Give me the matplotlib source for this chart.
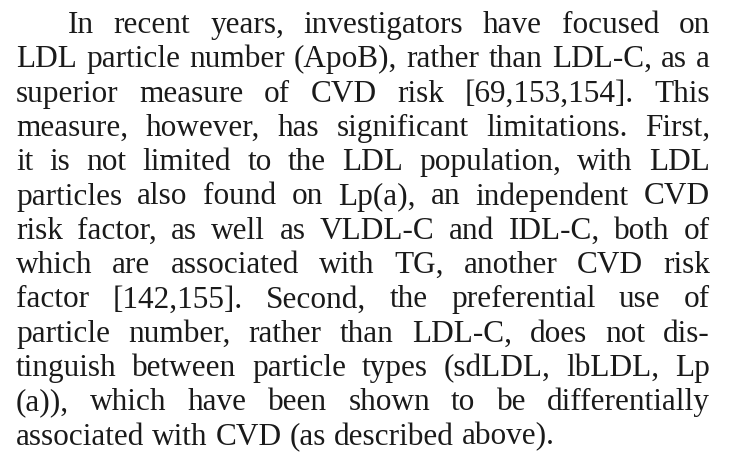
import matplotlib
matplotlib.use("Agg")
import matplotlib.pyplot as plt

# the paragraph, one entry per printed line
lines = [
    "In recent years, investigators have focused on",
    "LDL particle number (ApoB), rather than LDL-C, as a",
    "superior measure of CVD risk [69,153,154]. This",
    "measure, however, has significant limitations. First,",
    "it is not limited to the LDL population, with LDL",
    "particles also found on Lp(a), an independent CVD",
    "risk factor, as well as VLDL-C and IDL-C, both of",
    "which are associated with TG, another CVD risk",
    "factor [142,155]. Second, the preferential use of",
    "particle number, rather than LDL-C, does not dis-",
    "tinguish between particle types (sdLDL, lbLDL, Lp",
    "(a)), which have been shown to be differentially",
    "associated with CVD (as described above).",
]

W, H = 731, 462
left, right, indent = 16, 710, 68
first_base, lead = 33, 34.3
fsize = 22.5
color = "#1a1a1a"

fig = plt.figure(figsize=(W / 100, H / 100), dpi=100)
ax = fig.add_axes([0, 0, 1, 1])
ax.set_xlim(0, W)
ax.set_ylim(H, 0)
ax.axis("off")

renderer = fig.canvas.get_renderer()
font = dict(family="Liberation Serif", size=fsize, color=color)

def width_of(s):
    # pixel width == data width, axes spans the figure 1:1
    t = ax.text(0, 0, s, **font)
    w = t.get_window_extent(renderer).width
    t.remove()
    return w

space = width_of("a a") - width_of("aa")

for i, line in enumerate(lines):
    y = first_base + i * lead
    x0 = indent if i == 0 else left
    words = line.split(" ")
    widths = [width_of(w) for w in words]
    if i < len(lines) - 1 and len(words) > 1:
        gap = (right - x0 - sum(widths)) / (len(words) - 1)
    else:
        gap = space
    x = x0
    for w, wd in zip(words, widths):
        ax.text(x, y, w, va="baseline", ha="left", **font)
        x += wd + gap

fig.savefig("out.png", dpi=100, facecolor="white")
